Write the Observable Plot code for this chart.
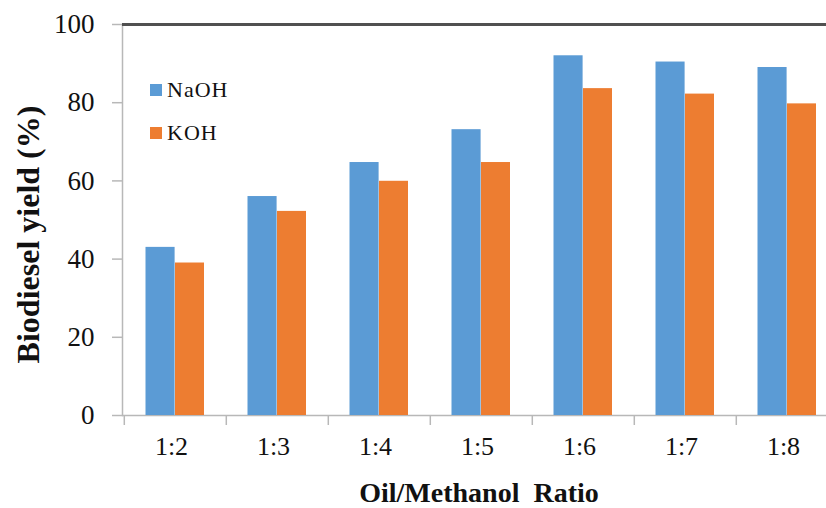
<!DOCTYPE html>
<html>
<head>
<meta charset="utf-8">
<script src="https://cdn.jsdelivr.net/npm/d3@7"></script>
<script src="https://cdn.jsdelivr.net/npm/@observablehq/plot@0.6"></script>
<style>
  html, body { margin: 0; padding: 0; background: #fff; }
  #wrap { position: relative; width: 826px; height: 508px; overflow: hidden; }
  .leg { position: absolute; left: 150px; font-family: "Liberation Serif", "Times New Roman", serif; font-size: 22px; letter-spacing: 1px; color: #111; display: flex; align-items: center; }
  .leg span.sw { display: inline-block; width: 12px; height: 12px; margin-right: 5px; }
</style>
</head>
<body>
<div id="wrap"></div>
<script>
const ratios = ["1:2", "1:3", "1:4", "1:5", "1:6", "1:7", "1:8"];
const naoh = [43, 56, 64.7, 73.1, 92, 90.4, 89];
const koh = [39, 52.2, 59.9, 64.7, 83.6, 82.2, 79.7];
const seriesNames = ["NaOH", "KOH"];
const seriesColors = ["#5B9BD5", "#ED7D31"];
const yTicks = [0, 20, 40, 60, 80, 100];
const yLabel = "Biodiesel yield (%)";
const xLabel = "Oil/Methanol\u00a0 Ratio";

const naohData = ratios.map((r, i) => ({ratio: r, value: naoh[i]}));
const kohData = ratios.map((r, i) => ({ratio: r, value: koh[i]}));

const font = '"Liberation Serif", "Times New Roman", serif';
const grey = "#b8b8b8";

const chart = Plot.plot({
  width: 826,
  height: 508,
  marginLeft: 122,
  marginRight: -13,
  marginTop: 24,
  marginBottom: 93,
  style: {fontFamily: font, background: "#fff"},
  x: {domain: ratios, padding: 0},
  y: {domain: [0, 100]},
  marks: [
    Plot.ruleY([0], {stroke: grey, strokeWidth: 1.5}),
    Plot.frame({anchor: "left", stroke: grey, strokeWidth: 1.5}),
    Plot.ruleY([100], {stroke: "#505050", strokeWidth: 3}),
    Plot.barY(naohData, {x: "ratio", y: "value", fill: seriesColors[0], insetLeft: 21.5, insetRight: 51.4}),
    Plot.barY(kohData, {x: "ratio", y: "value", fill: seriesColors[1], insetLeft: 51, insetRight: 22}),
    Plot.axisY({ticks: yTicks, tickSize: 10, tickPadding: 18, stroke: grey, strokeWidth: 1.5, fill: "#111", fontSize: 27, label: null}),
    Plot.axisX({tickSize: 0, tickPadding: 21, fontSize: 26, fill: "#111", dx: -4, label: null}),
    Plot.axisX({tickSize: 10, tickFormat: () => "", stroke: grey, strokeWidth: 1.5, dx: -51.2, label: null}),
    Plot.text([yLabel], {frameAnchor: "left", textAnchor: "middle", lineAnchor: "middle", rotate: -90, dx: -94, dy: 14.5, fontSize: 32, fontWeight: "bold", fill: "#111"}),
    Plot.text([xLabel], {frameAnchor: "bottom", textAnchor: "middle", lineAnchor: "middle", dx: -2, dy: 78, fontSize: 28, fontWeight: "bold", fill: "#111"})
  ]
});

const wrap = document.getElementById("wrap");
wrap.appendChild(chart);

const legTops = [77, 120];
seriesNames.forEach((name, i) => {
  const d = document.createElement("div");
  d.className = "leg";
  d.style.top = legTops[i] + "px";
  const sw = document.createElement("span");
  sw.className = "sw";
  sw.style.background = seriesColors[i];
  d.appendChild(sw);
  d.appendChild(document.createTextNode(name));
  wrap.appendChild(d);
});
</script>
</body>
</html>
